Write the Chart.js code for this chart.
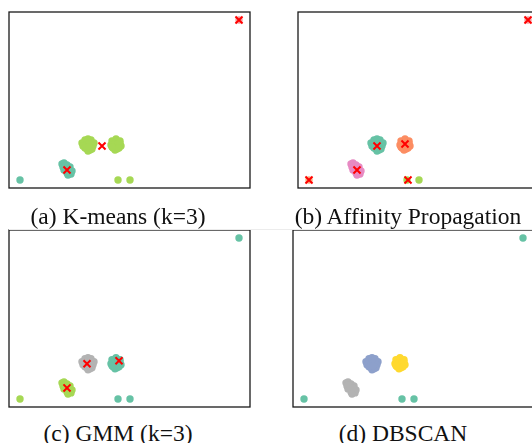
<!DOCTYPE html>
<html lang="en">
<head>
    <meta charset="UTF-8">
    <title>Clustering comparison</title>
    <script src="https://cdn.jsdelivr.net/npm/chart.js@4.4.1/dist/chart.umd.min.js"></script>
    <style>
        html, body {
            margin: 0;
            padding: 0;
            width: 532px;
            height: 443px;
            overflow: hidden;
            background: #fff;
        }
        .panel {
            position: absolute;
        }
        .caption {
            position: absolute;
            width: 300px;
            text-align: center;
            font-family: "Liberation Serif", "Times New Roman", serif;
            font-size: 23.5px;
            line-height: 24px;
            color: #111;
            white-space: nowrap;
        }
        .rule {
            position: absolute;
            left: 9px;
            top: 229px;
            width: 523px;
            height: 1px;
            background: #ececec;
        }
    </style>
</head>
<body>

    <canvas id="chartA" class="panel" style="left:5px;top:8px"></canvas>
    <canvas id="chartB" class="panel" style="left:294px;top:8px"></canvas>
    <canvas id="chartC" class="panel" style="left:5px;top:226px"></canvas>
    <canvas id="chartD" class="panel" style="left:289px;top:226px"></canvas>

    <div class="caption" style="left:-32px;top:204px">(a) K-means (k=3)</div>
    <div class="caption" style="left:258px;top:204px">(b) Affinity Propagation</div>
    <div class="rule"></div>
    <div class="caption" style="left:-32px;top:421px">(c) GMM (k=3)</div>
    <div class="caption" style="left:253px;top:421px">(d) DBSCAN</div>

    <script>
        // data points (same data set in every panel)
        const outlierTopRight = [[230, 168]];
        const outlierBottomLeft = [[11, 8]];
        const bottomPair = [[109, 8], [121, 8]];
        const blobLow = [[53, 24], [55, 25], [58, 23], [54, 21], [57, 19], [59, 18], [61, 15], [62, 14],
                         [58, 15], [55, 18], [61, 21], [63, 17], [59, 13], [56, 22], [60, 19]];
        const blobMidLeft = [[73, 45], [76, 48], [79, 49], [82, 48], [85, 45], [77, 43], [80, 44], [84, 42],
                             [74, 42], [78, 39], [81, 38], [79, 37], [76, 40], [83, 39], [80, 41]];
        const blobMidRight = [[103, 47], [107, 49], [111, 47], [102, 43], [106, 44], [109, 44], [112, 42],
                              [104, 40], [108, 39], [106, 38], [111, 45], [103, 41], [110, 40]];

        // cluster centres / exemplars
        const centersKmeans = [[230, 168], [93, 42], [58, 18]];
        const centersAffinity = [[230, 168], [11, 8], [79, 42], [107, 44], [59, 18], [110, 8]];
        const centersGmm = [[78, 43], [110, 46], [58, 19]];

        const teal = '#66c2a5', green = '#a6d854', orange = '#fc8d62', pink = '#e78ac3',
              blue = '#8da0cb', yellow = '#ffd92f', grey = '#b3b3b3';

        function pts(list) {
            return list.map(p => ({ x: p[0], y: p[1] }));
        }

        function group(lists, color) {
            return {
                data: pts([].concat(...lists)),
                backgroundColor: color,
                borderWidth: 0,
                pointRadius: 3.7,
                pointHoverRadius: 3.7,
                order: 2
            };
        }

        function centres(list) {
            return {
                data: pts(list),
                pointStyle: 'crossRot',
                borderColor: '#ff0000',
                borderWidth: 2,
                pointRadius: 5,
                pointHoverRadius: 5,
                order: 0
            };
        }

        const boxPlugin = {
            id: 'box',
            afterDraw(chart) {
                const a = chart.chartArea;
                const ctx = chart.ctx;
                ctx.save();
                ctx.strokeStyle = '#1a1a1a';
                ctx.lineWidth = 1.3;
                ctx.strokeRect(a.left, a.top, a.right - a.left, a.bottom - a.top);
                ctx.restore();
            }
        };

        function makeChart(id, height, datasets) {
            const canvas = document.getElementById(id);
            canvas.width = 249;
            canvas.height = height;
            return new Chart(canvas, {
                type: 'scatter',
                data: { datasets: datasets },
                options: {
                    responsive: false,
                    animation: false,
                    layout: { padding: 4, autoPadding: false },
                    plugins: { legend: { display: false }, tooltip: { enabled: false } },
                    scales: {
                        x: { type: 'linear', min: 0, max: 241, display: false },
                        y: { type: 'linear', min: 0, max: 176, display: false }
                    }
                },
                plugins: [boxPlugin]
            });
        }

        makeChart('chartA', 184, [
            centres(centersKmeans),
            group([blobLow, outlierBottomLeft], teal),
            group([blobMidLeft, blobMidRight, bottomPair], green),
            group([outlierTopRight], '#f4a0a0')
        ]);

        makeChart('chartB', 184, [
            centres(centersAffinity),
            group([blobMidLeft], teal),
            group([blobMidRight], orange),
            group([blobLow], pink),
            group([bottomPair], green),
            group([outlierTopRight], '#f4a0a0'),
            group([outlierBottomLeft], '#f8b080')
        ]);

        makeChart('chartC', 185, [
            centres(centersGmm),
            group([blobMidLeft], grey),
            group([blobMidRight, bottomPair, outlierTopRight], teal),
            group([blobLow, outlierBottomLeft], green)
        ]);

        makeChart('chartD', 185, [
            group([blobMidLeft], blue),
            group([blobMidRight], yellow),
            group([blobLow], grey),
            group([outlierTopRight, outlierBottomLeft, bottomPair], teal)
        ]);
    </script>

</body>
</html>
